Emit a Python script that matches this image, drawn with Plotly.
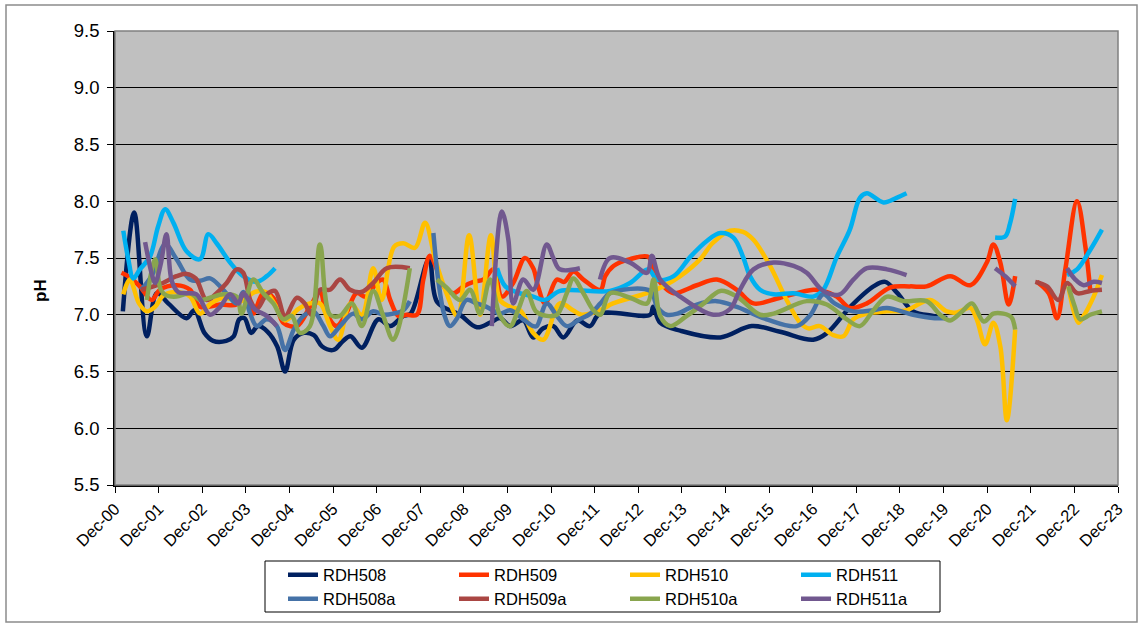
import pandas as pd
import plotly.graph_objects as go

# Monitoring start; sample positions are given as elapsed years from this date
START = pd.Timestamp("2000-12-01")

# ---- pH records per well (None = no sampling / break in record) ----
rdh508_t = [0.18, 0.44, 0.73, 0.96, 1.22, 1.64, 1.82, 2.05, 2.25, 2.55, 2.72, 2.85, 2.97, 3.12, 3.28,
            3.50, 3.72, 3.90, 4.10, 4.33, 4.56, 4.75, 5.01, 5.23, 5.40, 5.66, 6.04, 6.31, 6.61, 6.78,
            7.20, 7.39, 7.91, 8.30, 8.60, 8.83, 9.06, 9.36, 9.59, 9.82, 10.05, 10.28, 10.60, 10.89,
            11.12, 12.27, 12.34, 12.50, 12.96, 13.88, 14.60, 15.25, 16.01, 16.33, 16.86, 17.39, 17.66,
            17.94, 18.30, 18.76, 19.08]
rdh508_ph = [7.03, 7.90, 6.81, 7.19, 7.10, 6.97, 7.04, 6.84, 6.77, 6.77, 6.81, 6.96, 6.97, 6.84, 6.90,
             6.85, 6.72, 6.50, 6.78, 6.84, 6.82, 6.72, 6.69, 6.77, 6.81, 6.71, 6.96, 6.90, 6.99, 7.01,
             7.49, 7.11, 7.00, 6.89, 6.93, 6.97, 6.90, 6.95, 6.80, 6.88, 6.90, 6.80, 6.95, 6.90,
             7.01, 7.00, 7.07, 6.93, 6.86, 6.80, 6.90, 6.85, 6.78, 6.84, 7.07, 7.25, 7.29,
             7.19, 7.03, 6.99, 6.97]

rdh509_t = [0.15, 0.34, 0.57, 0.84, 1.03, 1.41, 1.72, 1.95, 2.41, 2.79, 3.02, 3.17, 3.40, 3.63, 3.86,
            4.17, 4.47, 4.70, 4.85, 5.08, 5.30, 5.54, 5.75, 6.00, 6.15, 6.31, 6.50, 6.69, 6.92, 7.07,
            7.22, 7.38, 7.53, 7.76, 7.99, 8.22, 8.45, 8.68, 8.87, 9.13, 9.40, 9.59, 9.70, 9.86, 10.13,
            10.30, 10.51, 10.74, 11.13, 11.24, 11.43, 11.81, 12.23, 12.35, 12.58, 12.81, 13.34, 13.80,
            14.26, 14.64, 15.25, 16.01, 16.24, 16.55, 16.85, 17.24, 17.77, 18.23, 18.61, 19.15, 19.61,
            19.99, 20.14, 20.30, 20.49, 20.64, 20.90, 21.14, 21.41, 21.60, 21.79, 22.06, 22.25, 22.36]
rdh509_ph = [7.37, 7.33, 7.25, 7.13, 7.22, 7.26, 7.22, 7.07, 7.09, 7.09, 7.19, 7.01, 7.19, 7.15, 6.93,
             6.90, 7.07, 7.20, 7.01, 6.90, 7.01, 7.19, 7.16, 7.28, 7.31, 7.13, 6.99, 7.00, 7.00, 7.31,
             7.52, 7.40, 7.25, 7.19, 7.25, 7.29, 7.31, 7.40, 7.16, 7.28, 7.50, 7.41, 7.25, 7.10, 7.31,
             7.29, 7.38, 7.31, 7.22, 7.34, 7.43, 7.49, 7.51, 7.37, 7.25, 7.19, 7.26, 7.31,
             7.22, 7.10, 7.15, 7.22, 7.21, 7.16, 7.06, 7.10, 7.24, 7.25, 7.25, 7.34, 7.26,
             7.46, 7.62, 7.46, 7.09, 7.34, None, 7.29, 7.19, 6.97, 7.40, 8.00, 7.60, 7.22]

rdh510_t = [0.19, 0.34, 0.55, 0.73, 0.92, 1.11, 1.41, 1.72, 1.95, 2.20, 2.50, 2.90, 3.20, 3.45, 3.65,
            3.90, 4.20, 4.47, 4.70, 4.93, 5.12, 5.40, 5.66, 5.92, 6.11, 6.40, 6.61, 6.88, 7.11, 7.34,
            7.60, 7.85, 8.12, 8.37, 8.62, 8.83, 9.06, 9.29, 9.59, 9.82, 10.20, 10.50, 10.70, 11.12,
            11.42, 12.20, 12.57, 12.96, 13.42, 13.70, 14.10, 14.40, 14.64, 15.02, 15.40, 15.71, 15.90,
            16.16, 16.47, 16.70, 16.93, 17.24, 17.70, 18.15, 18.69, 19.07, 19.30, 19.61, 19.76, 19.95,
            20.14, 20.30, 20.45, 20.64, 21.20, 21.86, 22.09, 22.21, 22.44, 22.63]
rdh510_ph = [7.18, 7.31, 7.10, 7.03, 7.07, 7.17, 7.20, 7.16, 7.01, 7.10, 7.15, 7.12, 7.20, 7.20, 7.10,
             6.95, 7.05, 7.10, 7.10, 6.90, 6.78, 7.10, 7.00, 7.41, 7.13, 7.60, 7.63, 7.59, 7.81, 7.49,
             7.19, 6.99, 7.70, 7.00, 7.70, 7.13, 7.07, 7.04, 6.84, 6.78, 7.10, 7.04, 7.00, 7.04,
             7.10, 7.19, 7.25, 7.34, 7.49, 7.63, 7.74, 7.73, 7.66, 7.43, 7.13, 6.93, 6.88,
             6.90, 6.82, 6.81, 6.96, 7.01, 7.03, 7.04, 7.13, 7.03, 7.02, 7.06, 6.96, 6.74,
             6.93, 6.72, 6.07, 6.87, None, 7.25, 6.93, 6.99, 7.16, 7.35]

rdh511_t = [0.19, 0.30, 0.42, 0.57, 0.80, 0.99, 1.15, 1.34, 1.64, 1.95, 2.14, 2.33, 2.64, 2.94, 3.25,
            3.48, 3.67, 6.00, 8.76, 8.95, 9.20, 9.59, 9.86, 10.21, 11.35, 11.81, 12.23, 12.43, 12.81,
            13.19, 13.57, 13.88, 14.18, 14.41, 14.56, 14.79, 15.10, 15.56, 16.01, 16.24, 16.55, 16.85,
            17.08, 17.24, 17.62, 17.92, 18.15, 19.00, 20.18, 20.41, 20.52, 20.64, 21.20, 21.83, 22.06,
            22.36, 22.63]
rdh511_ph = [7.74, 7.50, 7.32, 7.40, 7.51, 7.78, 7.93, 7.81, 7.56, 7.49, 7.71, 7.63, 7.46, 7.34, 7.29,
             7.34, 7.41, None, 7.41, 7.25, 7.20, 7.16, 7.13, 7.21, 7.21, 7.28, 7.40, 7.31, 7.34,
             7.51, 7.65, 7.72, 7.68, 7.50, 7.34, 7.22, 7.18, 7.19, 7.16, 7.22, 7.51, 7.75,
             8.03, 8.07, 7.99, 8.03, 8.07, None, 7.68, 7.69, 7.80, 8.02, None, 7.35, 7.40,
             7.57, 7.75]

rdh508a_t = [0.60, 0.85, 1.15, 1.41, 1.72, 1.95, 2.18, 2.41, 2.62, 2.79, 2.94, 3.10, 3.25, 3.48, 3.71,
             3.90, 4.10, 4.32, 4.55, 4.78, 4.93, 5.16, 5.46, 5.66, 5.92, 6.15, 6.38, 6.61, 6.76, 7.00,
             7.30, 7.41, 7.55, 7.68, 7.83, 8.06, 8.29, 8.52, 8.83, 9.06, 9.36, 9.59, 9.67, 9.90, 10.13,
             10.36, 10.66, 10.90, 11.13, 11.35, 12.27, 12.43, 12.65, 12.90, 13.34, 13.80, 14.26, 14.94,
             15.63, 15.95, 16.24, 16.50, 16.93, 17.39, 17.70, 18.30, 18.80, 19.04]
rdh508a_ph = [7.22, 7.35, 7.62, 7.49, 7.31, 7.30, 7.32, 7.25, 7.16, 7.10, 7.20, 7.01, 6.90, 6.96, 6.90,
              6.69, 6.87, 6.99, 7.03, 6.90, 6.81, 6.90, 7.01, 6.96, 7.03, 7.00, 7.01, 7.04, 7.12, None,
              7.72, 7.31, 7.00, 6.90, 6.96, 7.13, 7.10, 7.07, 7.01, 7.04, 6.96, 6.90, 6.90, 7.10, 6.99,
              6.90, 6.96, 7.01, 7.10, 7.19, 7.21, 7.07, 7.00, 7.01, 7.09, 7.12, 7.07, 6.96,
              6.90, 7.00, 7.18, 7.10, 7.03, 7.04, 7.06, 7.00, 6.97, 6.97]

rdh509a_t = [0.60, 0.88, 1.10, 1.41, 1.64, 1.85, 2.10, 2.33, 2.56, 2.79, 2.94, 3.10, 3.25, 3.48, 3.67,
             3.90, 4.17, 4.35, 4.50, 4.70, 4.93, 5.16, 5.39, 5.65, 5.92, 6.23, 6.76, 14.00, 21.10, 21.37,
             21.63, 21.83, 22.06, 22.36, 22.63]
rdh509a_ph = [7.22, 7.25, 7.28, 7.34, 7.36, 7.32, 7.13, 7.19, 7.28, 7.40, 7.37, 7.13, 7.05, 7.18, 7.21,
              6.99, 7.15, 7.10, 7.00, 7.22, 7.22, 7.31, 7.22, 7.20, 7.28, 7.41, 7.41, None, 7.29, 7.25,
              7.13, 7.28, 7.19, 7.21, 7.22]

rdh510a_t = [0.73, 0.92, 1.05, 1.18, 1.41, 1.72, 1.95, 2.18, 2.48, 2.79, 2.90, 3.17, 3.40, 3.63, 3.86,
             4.05, 4.24, 4.47, 4.70, 4.93, 5.16, 5.43, 5.66, 5.92, 6.15, 6.38, 6.76, 7.05, 7.38, 7.60,
             7.91, 8.14, 8.37, 8.60, 8.83, 9.06, 9.25, 9.44, 9.65, 9.90, 10.13, 10.36, 10.51, 10.74,
             10.97, 11.13, 11.35, 11.81, 12.20, 12.35, 12.50, 12.73, 13.11, 13.50, 13.88, 14.26, 14.79,
             15.10, 15.86, 16.32, 16.78, 17.08, 17.39, 17.70, 18.08, 18.61, 18.92, 19.15, 19.40, 19.65,
             19.92, 20.14, 20.37, 20.55, 20.64, 21.20, 21.86, 22.00, 22.13, 22.36, 22.63]
rdh510a_ph = [7.13, 7.49, 7.22, 7.17, 7.16, 7.19, 7.13, 7.15, 7.18, 7.16, 7.01, 7.31, 7.19, 7.10, 6.96,
              6.99, 6.84, 6.90, 7.62, 7.00, 6.99, 7.10, 6.90, 7.21, 6.99, 6.78, 7.41, None, 7.31, 7.24,
              7.13, 7.22, 7.01, 7.31, 6.99, 6.90, 7.05, 7.21, 7.03, 6.99, 7.00, 7.19, 7.32, 7.19,
              7.04, 7.00, 7.19, 7.15, 7.10, 7.31, 6.99, 6.90, 6.99, 7.10, 7.21, 7.16, 7.00,
              7.01, 7.12, 7.09, 6.96, 6.90, 7.04, 7.16, 7.12, 7.12, 7.00, 6.95, 7.02, 7.10,
              6.94, 7.01, 7.01, 6.98, 6.87, None, 7.25, 7.08, 6.96, 7.00, 7.03]

rdh511a_t = [0.69, 0.85, 0.92, 1.05, 1.18, 1.30, 1.45, 1.64, 1.87, 2.18, 2.41, 2.64, 2.83, 2.94, 3.20,
             3.48, 3.71, 6.00, 8.64, 8.87, 9.02, 9.13, 9.36, 9.59, 9.90, 10.05, 10.20, 10.66, 10.90,
             11.12, 11.35, 11.81, 12.20, 12.31, 12.50, 12.96, 13.72, 14.10, 14.33, 14.64, 15.10, 15.56,
             15.86, 16.24, 16.62, 16.93, 17.24, 17.70, 18.15, 19.00, 20.18, 20.41, 20.64, 21.20, 21.83,
             22.02, 22.21, 22.44, 22.63]
rdh511a_ph = [7.64, 7.35, 7.28, 7.45, 7.71, 7.30, 7.20, 7.19, 7.18, 7.00, 7.07, 7.18, 7.10, 7.19, 7.05,
              6.99, 6.90, None, 6.90, 7.91, 7.66, 7.10, 7.31, 7.22, 7.62, 7.50, 7.40, 7.41, None,
              7.31, 7.50, 7.46, 7.37, 7.52, 7.31, 7.16, 7.00, 7.05, 7.22, 7.40, 7.46, 7.43,
              7.37, 7.21, 7.18, 7.31, 7.41, 7.40, 7.35, None, 7.41, 7.34, 7.25, None, 7.41,
              7.31, 7.26, 7.29, 7.28]

series = [
    ("RDH508", rdh508_t, rdh508_ph, "#002060", "legend"),
    ("RDH509", rdh509_t, rdh509_ph, "#FF3300", "legend"),
    ("RDH510", rdh510_t, rdh510_ph, "#FFC000", "legend"),
    ("RDH511", rdh511_t, rdh511_ph, "#00B0F0", "legend"),
    ("RDH508a", rdh508a_t, rdh508a_ph, "#4572A7", "legend2"),
    ("RDH509a", rdh509a_t, rdh509a_ph, "#AA4643", "legend2"),
    ("RDH510a", rdh510a_t, rdh510a_ph, "#89A54E", "legend2"),
    ("RDH511a", rdh511a_t, rdh511a_ph, "#71588F", "legend2"),
]

year_ticks = [pd.Timestamp(year=y, month=12, day=1) for y in range(2000, 2024)]


def to_dates(elapsed):
    return [START + pd.Timedelta(days=v * 365.25) for v in elapsed]


FONT = "Liberation Sans, Arial, sans-serif"

fig = go.Figure()
for name, t, ph, color, leg in series:
    fig.add_trace(go.Scatter(
        x=to_dates(t), y=ph, name=name, mode="lines",
        line=dict(color=color, width=4.5, shape="spline", smoothing=1.0),
        connectgaps=False, legend=leg,
    ))

# plot-area geometry (pixels)
L, R, T, B = 115, 24, 31, 143
W, H = 1142, 628
pw, ph_ = W - L - R, H - T - B


def px_x(p):
    return (p - L) / pw


def px_y(p):
    return (H - B - p) / ph_


shapes = [
    # outer chart frame
    dict(type="rect", xref="paper", yref="paper", x0=px_x(6), x1=px_x(1137), y0=px_y(622), y1=px_y(5),
         line=dict(color="#8c8c8c", width=1.5), layer="below"),
    # plot-area frame (top / right)
    dict(type="rect", xref="paper", yref="paper", x0=0, x1=1, y0=0, y1=1,
         line=dict(color="#808080", width=1.5), layer="above"),
    # legend frame
    dict(type="rect", xref="paper", yref="paper", x0=px_x(265), x1=px_x(940), y0=px_y(612), y1=px_y(561),
         line=dict(color="#000000", width=1), layer="below"),
]

leg_common = dict(orientation="h", xanchor="left", yanchor="middle", bgcolor="rgba(0,0,0,0)",
                  font=dict(family=FONT, size=16.5, color="#000000"), entrywidth=126,
                  entrywidthmode="pixels", itemwidth=30, tracegroupgap=0)

fig.update_layout(
    width=W, height=H,
    margin=dict(l=L, r=R, t=T, b=B, autoexpand=False),
    paper_bgcolor="#FFFFFF", plot_bgcolor="#C0C0C0",
    font=dict(family=FONT, color="#000000"),
    showlegend=True,
    legend=dict(x=px_x(283), y=px_y(575), **leg_common),
    legend2=dict(x=px_x(283), y=px_y(599), **leg_common),
    shapes=shapes,
    xaxis=dict(
        type="date", range=[year_ticks[0], year_ticks[-1]],
        tickvals=year_ticks, tickformat="%b-%y", tickangle=-45,
        tickfont=dict(family=FONT, size=16.5, color="#000000"),
        ticks="outside", ticklen=6, tickcolor="#000000", tickwidth=1,
        showgrid=False, zeroline=False,
        showline=True, linecolor="#000000", linewidth=1.5,
    ),
    yaxis=dict(
        range=[5.5, 9.5], tickmode="linear", tick0=5.5, dtick=0.5, tickformat=".1f",
        tickfont=dict(family=FONT, size=18.5, color="#000000"),
        ticks="outside", ticklen=6, tickcolor="#000000", tickwidth=1, ticklabelstandoff=4,
        showgrid=True, gridcolor="#000000", gridwidth=1,
        zeroline=False, showline=True, linecolor="#000000", linewidth=1.5,
    ),
    annotations=[dict(text="<b>pH</b>", textangle=-90, xref="paper", yref="paper",
                      x=px_x(40), y=px_y(291), xanchor="center", yanchor="middle", showarrow=False,
                      font=dict(family=FONT, size=17, color="#000000"))],
)

fig.write_html("out.html")
